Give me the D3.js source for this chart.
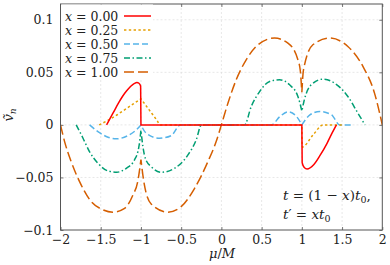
<!DOCTYPE html>
<html>
<head>
<meta charset="utf-8">
<script src="https://cdn.jsdelivr.net/npm/d3@7"></script>
<style>
  body { margin: 0; background: #fff; }
  svg text { font-family: "DejaVu Serif", serif; fill: #222; }
</style>
</head>
<body>
<div id="chart"></div>
<script>
// values, [mu/M, v_n]
const x000 = [[-1.427,0],[-1.38,0.0066],[-1.33,0.0136],[-1.28,0.0206],[-1.23,0.027],[-1.18,0.0322],[-1.13,0.0365],[-1.08,0.0395],[-1.05,0.0403],[-1.025,0.0396],[-1.004,0.037],[-1.0,0],
  [1.0,0],[1.004,-0.036],[1.03,-0.0405],[1.065,-0.042],[1.147,-0.038],[1.23,-0.0286],[1.313,-0.0175],[1.375,-0.0079],[1.43,0]];
const x025 = [[-1.52,0],[-1.4,0.0048],[-1.3,0.0094],[-1.2,0.0145],[-1.1,0.0197],[-1.0,0.0248],[-0.9,0.0145],[-0.8,0.0042],[-0.76,0],
  [1.0,0],[1.004,-0.021],[1.14,-0.0095],[1.265,0],[1.52,0]];
const x050 = [[-1.638,0],[-1.535,-0.0064],[-1.432,-0.011],[-1.308,-0.0133],[-1.162,-0.0102],[-1.059,-0.0048],[-1.0,0],
  [-0.935,-0.0079],[-0.768,-0.0127],[-0.624,-0.0102],[-0.51,0],[0.62,0],[0.727,0.0079],[0.83,0.0125],[0.935,0.0079],[1.0,0],
  [1.1,0.0095],[1.224,0.0128],[1.37,0.0095],[1.47,0],[1.64,0]];
const x075 = [[-1.805,0],[-1.72,-0.0127],[-1.64,-0.0254],[-1.535,-0.0365],[-1.41,-0.0438],[-1.3,-0.045],[-1.183,-0.0413],[-1.08,-0.0333],[-1.025,-0.0205],[-1.0,-0.005],
  [-0.975,-0.021],[-0.94,-0.033],[-0.873,-0.0397],[-0.748,-0.0451],[-0.582,-0.0413],[-0.416,-0.0286],[-0.313,-0.0143],[-0.248,0],
  [0.288,0],[0.371,0.0175],[0.475,0.0317],[0.6,0.0413],[0.723,0.0429],[0.848,0.0381],[0.951,0.027],[0.975,0.021],[1.0,0.013],
  [1.025,0.022],[1.116,0.0381],[1.262,0.0435],[1.407,0.0397],[1.572,0.027],[1.697,0.0111],[1.785,0]];
const x100 = [[-2,0],[-1.949,-0.0159],[-1.867,-0.035],[-1.763,-0.054],[-1.618,-0.073],[-1.48,-0.0805],[-1.349,-0.083],[-1.203,-0.0794],[-1.1,-0.0667],[-1.04,-0.054],[-1.0,-0.033],
  [-0.96,-0.056],[-0.873,-0.0752],[-0.665,-0.083],[-0.5,-0.0778],[-0.333,-0.0603],[-0.168,-0.035],[-0.065,-0.0159],[0,0],
  [0.081,0.0206],[0.184,0.0429],[0.308,0.0619],[0.454,0.0762],[0.661,0.0826],[0.827,0.0778],[0.951,0.0619],[0.98,0.052],[1.0,0.031],
  [1.02,0.052],[1.137,0.0762],[1.345,0.0826],[1.572,0.0746],[1.759,0.0556],[1.904,0.03],[2.0,0]];

const seriesLabels = ["0.00", "0.25", "0.50", "0.75", "1.00"];
const xTicks = [-2, -1.5, -1, -0.5, 0, 0.5, 1, 1.5, 2];
const yTicks = [-0.1, -0.05, 0, 0.05, 0.1];

const W = 390, H = 265;
const L = 60.5, R = 382.3, T = 4, B = 230;

const svg = d3.select("#chart").append("svg").attr("width", W).attr("height", H);

const x = d3.scaleLinear().domain([-2, 2]).range([L, R]);
const y = d3.scaleLinear().domain([-0.1, 0.115]).range([B, T]);

// grid
const grid = svg.append("g").attr("stroke", "#d6d6d6").attr("stroke-width", 0.6).attr("stroke-dasharray", "2,2");
grid.selectAll(".gx").data(xTicks.slice(1, -1)).join("line")
  .attr("x1", d => x(d)).attr("x2", d => x(d)).attr("y1", T).attr("y2", B);
grid.selectAll(".gy").data(yTicks.slice(1)).join("line")
  .attr("x1", L).attr("x2", R).attr("y1", d => y(d)).attr("y2", d => y(d));

const fmt = d => (d < 0 ? "\u2212" : "") + Math.abs(d);

// axes with inward ticks
svg.append("g").attr("transform", `translate(0,${B})`)
  .call(d3.axisBottom(x).tickValues(xTicks).tickFormat(fmt).tickSize(-3).tickSizeOuter(0).tickPadding(5));
svg.append("g").attr("transform", `translate(${L},0)`)
  .call(d3.axisLeft(y).tickValues(yTicks).tickFormat(fmt).tickSize(-3).tickSizeOuter(0).tickPadding(7));
svg.append("g").attr("transform", `translate(0,${T})`)
  .call(d3.axisTop(x).tickValues(xTicks).tickFormat("").tickSize(-3).tickSizeOuter(0));
svg.append("g").attr("transform", `translate(${R},0)`)
  .call(d3.axisRight(y).tickValues(yTicks).tickFormat("").tickSize(-3).tickSizeOuter(0));
svg.selectAll(".domain").remove();
svg.selectAll(".tick line").attr("stroke", "#555").attr("stroke-width", 0.8);
svg.selectAll(".tick text").attr("font-size", 12.5).attr("fill", "#222");

// curves
svg.append("clipPath").attr("id", "clip").append("rect")
  .attr("x", L).attr("y", T).attr("width", R - L).attr("height", B - T);

const line = d3.line().x(d => x(d[0])).y(d => y(d[1])).curve(d3.curveMonotoneX);
// cusps at mu = +-1: smooth each piece on its own, then join into one path
function cuspPath(pts) {
  const pieces = [];
  let cur = [];
  pts.forEach(p => {
    cur.push(p);
    if (Math.abs(p[0]) === 1) { pieces.push(cur); cur = [p]; }
  });
  if (cur.length > 1) pieces.push(cur);
  return pieces.map((s, i) => {
    const d = line(s);
    return i === 0 ? d : d.replace(/^M/, "L");
  }).join("");
}

const styles = [
  { data: x000, color: "#ff0000", dash: null },
  { data: x025, color: "#e69f00", dash: "2.4,2.4" },
  { data: x050, color: "#56b4e9", dash: "6,3" },
  { data: x075, color: "#009e73", dash: "6,2.5,1.5,2.5" },
  { data: x100, color: "#d55e00", dash: "10,4" }
];

const plot = svg.append("g").attr("clip-path", "url(#clip)");
styles.slice().reverse().forEach(s => {
  plot.append("path").attr("d", cuspPath(s.data))
    .attr("fill", "none").attr("stroke", s.color).attr("stroke-width", 1.5)
    .attr("stroke-dasharray", s.dash);
});

// frame
svg.append("rect").attr("x", L).attr("y", T).attr("width", R - L).attr("height", B - T)
  .attr("fill", "none").attr("stroke", "#555").attr("stroke-width", 1);

// legend
const lg = svg.append("g");
lg.append("rect").attr("x", L + 0.5).attr("y", T + 0.5).attr("width", 92).attr("height", 74).attr("fill", "#fff");
styles.forEach((s, i) => {
  const yb = 20.5 + i * 14;
  const t = lg.append("text").attr("x", 65).attr("y", yb).attr("font-size", 12.5);
  t.append("tspan").attr("font-style", "italic").text("x");
  t.append("tspan").text(" = " + seriesLabels[i]);
  lg.append("line").attr("x1", 124).attr("x2", 151).attr("y1", yb - 4.5).attr("y2", yb - 4.5)
    .attr("stroke", s.color).attr("stroke-width", 1.5).attr("stroke-dasharray", s.dash);
});

// axis titles
const yl = svg.append("text").attr("transform", "translate(13,115) rotate(-90)")
  .attr("text-anchor", "middle").attr("font-size", 13);
yl.append("tspan").attr("font-style", "italic").text("v\u0303");
yl.append("tspan").attr("font-style", "italic").attr("font-size", 9).attr("dy", 3).text("n");

const xl = svg.append("text").attr("x", 222).attr("y", 258).attr("text-anchor", "middle").attr("font-size", 13);
xl.append("tspan").attr("font-style", "italic").text("\u03bc");
xl.append("tspan").text("/");
xl.append("tspan").attr("font-style", "italic").text("M");

// annotation
function note(yb, parts) {
  const t = svg.append("text").attr("x", 283).attr("y", yb).attr("font-size", 13.5);
  parts.forEach(p => {
    const sp = t.append("tspan").text(p[0]);
    if (p[1] === "i") sp.attr("font-style", "italic");
    if (p[1] === "sub") sp.attr("font-size", 9.5).attr("dy", 3);
    if (p[1] === "up") sp.attr("dy", -3);
  });
}
note(200, [["t", "i"], [" = (1 \u2212 "], ["x", "i"], [")"], ["t", "i"], ["0", "sub"], [",", "up"]]);
note(219, [["t", "i"], ["\u2032 = "], ["xt", "i"], ["0", "sub"]]);
</script>
</body>
</html>
